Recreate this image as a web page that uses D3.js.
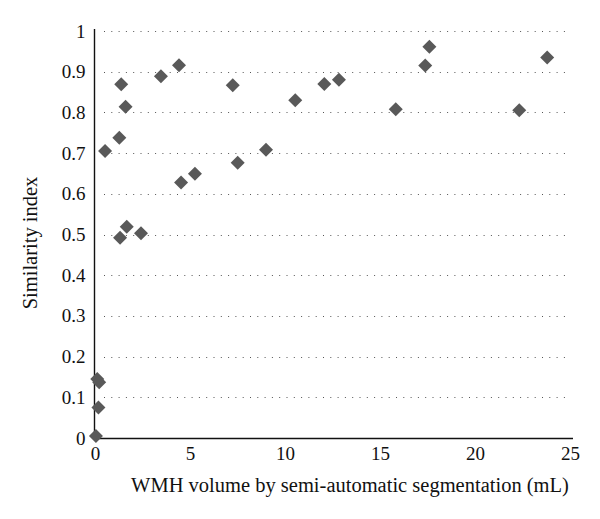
<!DOCTYPE html>
<html>
<head>
<meta charset="utf-8">
<script src="https://cdn.jsdelivr.net/npm/d3@7"></script>
<style>
  body { margin: 0; background: #fff; }
  text { font-family: "Liberation Serif", "DejaVu Serif", serif; fill: #111; }
</style>
</head>
<body>
<div id="viz"></div>
<script>
(function () {
  // WMH volume (mL) vs similarity index
  var volumes = [0.05, 0.18, 0.12, 0.22, 0.53, 1.28, 1.32, 1.38, 1.61, 1.67, 2.42,
    3.47, 4.42, 4.53, 5.26, 7.25, 7.51, 9.0, 10.54, 12.07, 12.84,
    15.83, 17.38, 17.6, 22.33, 23.8];
  var similarity = [0.005, 0.075, 0.145, 0.137, 0.705, 0.738, 0.492, 0.869, 0.814, 0.519, 0.503,
    0.889, 0.916, 0.628, 0.649, 0.867, 0.676, 0.708, 0.830, 0.870, 0.880,
    0.808, 0.915, 0.961, 0.805, 0.935];
  var xTicks = [0, 5, 10, 15, 20, 25];
  var yTicks = [0, 0.1, 0.2, 0.3, 0.4, 0.5, 0.6, 0.7, 0.8, 0.9, 1];

  var width = 600, height = 519;
  var left = 95, right = 570, top = 31, bottom = 438;

  var svg = d3.select("#viz").append("svg")
    .attr("width", width)
    .attr("height", height);

  var x = d3.scaleLinear().domain([0, 25]).range([left, right]);
  var y = d3.scaleLinear().domain([0, 1]).range([bottom, top]);

  // dotted gridlines
  svg.append("g")
    .selectAll("line")
    .data(yTicks.filter(function (d) { return d > 0; }))
    .enter().append("line")
    .attr("x1", left + 9)
    .attr("x2", right - 3)
    .attr("y1", function (d) { return Math.round(y(d)) + 0.5; })
    .attr("y2", function (d) { return Math.round(y(d)) + 0.5; })
    .attr("stroke", "#555")
    .attr("stroke-width", 1)
    .attr("stroke-dasharray", "1,6.3");

  var yAxis = d3.axisLeft(y).tickValues(yTicks).tickSize(0).tickPadding(9)
    .tickFormat(function (d) { return d === 0 ? "0" : (d === 1 ? "1" : d3.format(".1f")(d)); });
  var gy = svg.append("g").attr("transform", "translate(" + (left - 0.5) + ",0)").call(yAxis);
  gy.select(".domain").attr("stroke", "#111").attr("stroke-width", 1.4)
    .attr("d", "M0," + (top - 2) + "V" + (bottom + 1));
  gy.selectAll("text").attr("font-size", 19).attr("font-family", "Liberation Serif").attr("fill", "#111");

  var xAxis = d3.axisBottom(x).tickValues(xTicks).tickSize(0).tickPadding(8);
  var gx = svg.append("g").attr("transform", "translate(0," + (bottom + 0.5) + ")").call(xAxis);
  gx.select(".domain").attr("stroke", "#111").attr("stroke-width", 1.4)
    .attr("d", "M" + (left - 1) + ",0H" + (right + 3));
  gx.selectAll("text").attr("font-size", 19).attr("font-family", "Liberation Serif").attr("fill", "#111");

  // diamonds
  var pts = volumes.map(function (v, i) { return [v, similarity[i]]; });
  svg.append("g")
    .selectAll("path")
    .data(pts)
    .enter().append("path")
    .attr("transform", function (d) { return "translate(" + x(d[0]) + "," + y(d[1]) + ")"; })
    .attr("d", "M0,-7L7,0L0,7L-7,0Z")
    .attr("fill", "#595959");

  svg.append("text")
    .attr("x", 350).attr("y", 492)
    .attr("text-anchor", "middle")
    .attr("font-size", 20.5)
    .text("WMH volume by semi-automatic segmentation (mL)");

  svg.append("text")
    .attr("transform", "translate(37,243) rotate(-90)")
    .attr("text-anchor", "middle")
    .attr("font-size", 20.5)
    .text("Similarity index");
})();
</script>
</body>
</html>
